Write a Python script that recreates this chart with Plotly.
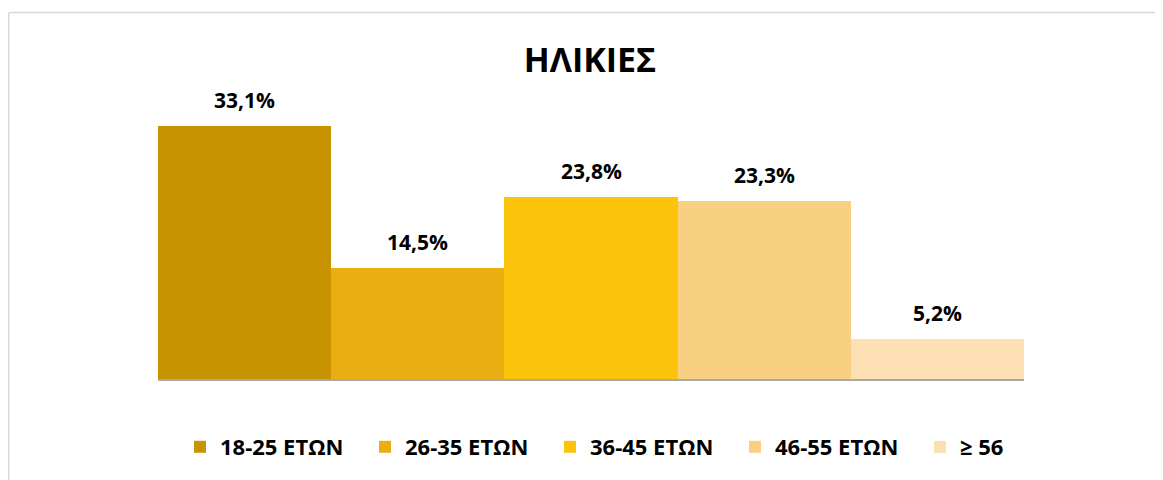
import plotly.graph_objects as go

categories = ["18-25 ΕΤΩΝ", "26-35 ΕΤΩΝ", "36-45 ΕΤΩΝ", "46-55 ΕΤΩΝ", "≥ 56"]
values = [33.1, 14.5, 23.8, 23.3, 5.2]
colors = ["#C79300", "#EAAE12", "#FBC30A", "#F9CF82", "#FCDFB2"]
title_text = "ΗΛΙΚΙΕΣ"

# page body adds an 8px offset, so the figure is drawn 8px smaller
W, H = 1155, 472
T, B = 92, 101
ph = H - T - B
BAR_L, BAR_R = 150, 1016          # plot-area edges in figure pixels
BASE = H - B                       # baseline in figure pixels

def px_x(p):
    return p / W

def px_y(p):
    return (BASE - p) / ph

fig = go.Figure()
for cat, val, col in zip(categories, values, colors):
    fig.add_trace(go.Bar(
        x=[cat], y=[val], name=f"<b>{cat}</b>",
        marker=dict(color=col, line=dict(width=0)),
        hoverinfo="y",
    ))
    fig.add_annotation(
        x=cat, y=val, text=f"<b>{val:.1f}%</b>".replace(".", ","),
        showarrow=False, yanchor="middle", yshift=26,
        font=dict(family="Open Sans", size=21, color="#000000"),
    )

fig.add_shape(type="line", xref="paper", yref="paper",
              x0=px_x(0.75), x1=px_x(W + 5), y0=px_y(4.5), y1=px_y(4.5),
              line=dict(color="#D9D9D9", width=1.5))
fig.add_shape(type="line", xref="paper", yref="paper",
              x0=px_x(0.75), x1=px_x(0.75), y0=px_y(4.5), y1=px_y(H + 5),
              line=dict(color="#D9D9D9", width=1.5))

fig.update_layout(
    width=W, height=H,
    margin=dict(l=0, r=0, t=T, b=B, autoexpand=False),
    paper_bgcolor="white", plot_bgcolor="white",
    barmode="group", bargap=0, bargroupgap=0,
    separators=",.",
    title=dict(text=f"<b>{title_text}</b>", x=582 / W,
               xanchor="center", y=1 - 52 / H, yanchor="middle",
               font=dict(family="Open Sans", size=34, color="#000000")),
    xaxis=dict(domain=[BAR_L / W, BAR_R / W],
               showticklabels=False, showgrid=False, zeroline=False,
               showline=True, linecolor="#A8A8A8", linewidth=2, ticks=""),
    yaxis=dict(range=[0, ph / 7.64], showticklabels=False, showgrid=False,
               zeroline=False, showline=False, ticks=""),
    legend=dict(orientation="h", x=px_x(172), xanchor="left",
                y=px_y(439), yanchor="middle",
                entrywidth=140, entrywidthmode="pixels",
                font=dict(family="Open Sans", size=22, color="#000000"),
                itemwidth=30, traceorder="normal"),
    showlegend=True,
)

fig.write_html("out.html")
